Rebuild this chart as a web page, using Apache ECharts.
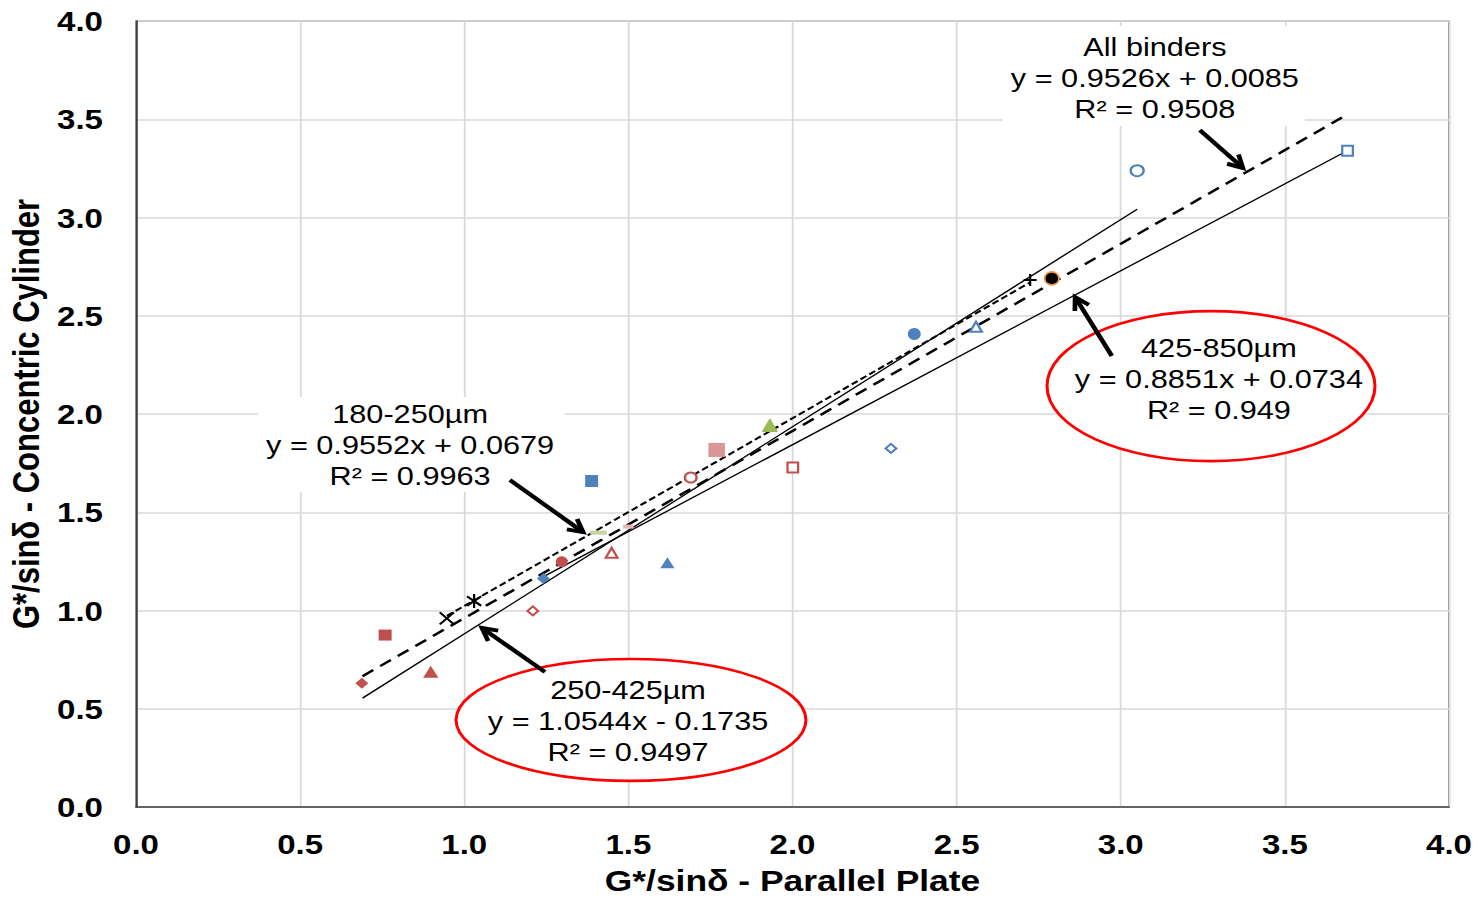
<!DOCTYPE html>
<html>
<head>
<meta charset="utf-8" />
<title></title>
<style>
html,body{margin:0;padding:0;background:#fff;overflow:hidden;}
#wrap{width:1478px;height:898px;overflow:hidden;}
#chart{width:1253px;height:898px;transform:scaleX(1.17957);transform-origin:0 0;}
</style>
</head>
<body>
<div id="wrap"><div id="chart"></div></div>
<script src="https://cdn.jsdelivr.net/npm/echarts@6/dist/echarts.min.js"></script>
<script>
// axis ticks
var xTicks = [0, 0.5, 1.0, 1.5, 2.0, 2.5, 3.0, 3.5, 4.0];
var yTicks = [0, 0.5, 1.0, 1.5, 2.0, 2.5, 3.0, 3.5, 4.0];

// measured points (parallel plate, concentric cylinder)
var ptX = [0.688, 0.759, 0.898, 0.947, 1.030, 1.209, 1.241, 1.297, 1.409, 1.388, 1.500, 1.449,
           1.619, 1.690, 1.769, 1.931, 2.001, 2.300, 2.371, 2.559, 2.724, 2.790, 3.050, 3.691];
var ptY = [0.630, 0.875, 0.688, 0.960, 1.048, 0.998, 1.163, 1.248, 1.396, 1.659, 1.427, 1.294,
           1.243, 1.677, 1.817, 1.944, 1.728, 1.825, 2.407, 2.444, 2.682, 2.690, 3.238, 3.340];

// trend lines
var fitNames = ['All binders', '180-250µm', '250-425µm', '425-850µm'];
var fitSlope = [0.9526, 0.9552, 1.0544, 0.8851];
var fitIntercept = [0.0085, 0.0679, -0.1735, 0.0734];
var fitR2 = ['0.9508', '0.9963', '0.9497', '0.949'];
var fitFrom = [0.69, 0.947, 0.69, 1.24];
var fitTo = [3.674, 2.724, 3.05, 3.69];

// marker look for each point (same order as ptX)
var blue = '#4f81bd', red = '#c0504d';
var ptStyle = [
  ['diamond', red, 0, [11, 11]], ['rect', red, 0, [11, 11]], ['triangle', red, 0, [13, 12]],
  ['x', '#000', 0, [12, 12]], ['star', '#000', 0, [12, 14]], ['diamond', red, 1, [9, 9]],
  ['diamond', blue, 0, [11, 11]], ['circle', red, 0, [10, 11]], ['rect', '#c3d69b', 0, [14, 4]],
  ['rect', blue, 0, [11, 12]], ['rect', '#e6b9b8', 0, [9, 4]], ['triangle', red, 1, [10, 10]],
  ['triangle', blue, 0, [12, 11]], ['circle', red, 1, [10, 10]], ['rect', '#d99694', 0, [14, 14]],
  ['triangle', '#9bbb59', 0, [14, 14]], ['rect', red, 1, [9, 10]], ['diamond', blue, 1, [9, 9]],
  ['circle', blue, 0, [11, 12]], ['triangle', blue, 1, [10, 10]], ['plus', '#000', 0, [11, 12]],
  ['circle', '#000', 0, [12, 13]], ['circle', blue, 1, [11, 11]], ['rect', blue, 1, [9, 10]]
];

var paths = {
  x: 'path://M0 0L10 10M10 0L0 10',
  star: 'path://M0 2L10 10M10 2L0 10M5 0L5 12',
  plus: 'path://M0 5L10 5M5 0L5 10'
};

var font = '"Liberation Sans", Arial, sans-serif';
var chart = echarts.init(document.getElementById('chart'), null, {renderer: 'svg'});

function eqText(i) {
  var b = fitIntercept[i];
  return 'y = ' + fitSlope[i] + 'x ' + (b < 0 ? '- ' : '+ ') + Math.abs(b);
}

var series = [];
var lineStyles = [
  {type: [11, 7], width: 2.4},
  {type: [6, 3], width: 2},
  {type: 'solid', width: 1.3},
  {type: 'solid', width: 1.3}
];
for (var i = 0; i < fitNames.length; i++) {
  var f = fitFrom[i], t = fitTo[i];
  series.push({
    name: fitNames[i],
    type: 'line',
    data: [[f, fitSlope[i] * f + fitIntercept[i]], [t, fitSlope[i] * t + fitIntercept[i]]],
    symbol: 'none',
    silent: true,
    z: 2,
    lineStyle: {color: '#000', width: lineStyles[i].width, type: lineStyles[i].type, opacity: 1}
  });
}
for (var k = 0; k < ptX.length; k++) {
  var st = ptStyle[k];
  var isPath = paths[st[0]];
  var item;
  if (isPath) {
    item = {color: '#000', borderColor: '#000', borderWidth: 2};
  } else if (st[2]) {
    item = {color: '#fff', borderColor: st[1], borderWidth: 2};
  } else {
    item = {color: st[1]};
  }
  if (k === 21) item = {color: '#000', borderColor: '#f79646', borderWidth: 1.5};
  item.opacity = 1;
  series.push({
    type: 'scatter',
    data: [[ptX[k], ptY[k]]],
    symbol: isPath || st[0],
    symbolSize: st[3],
    z: 4,
    silent: true,
    itemStyle: item
  });
}

var axisBase = {
  type: 'value',
  min: 0,
  max: 4,
  interval: 0.5,
  axisTick: {show: false},
  axisLine: {show: true, lineStyle: {color: '#404040', width: 1.6}},
  splitLine: {show: true, lineStyle: {color: '#d9d9d9', width: 1.5}},
  nameLocation: 'middle',
  nameTextStyle: {color: '#000', fontWeight: 'bold', fontFamily: font}
};

chart.setOption({
  animation: false,
  backgroundColor: '#fff',
  grid: {left: 115.3, right: 24.6, top: 21, bottom: 91, show: true, borderColor: '#8c8c8c', borderWidth: 1.5,
         containLabel: false, outerBoundsMode: 'none'},
  xAxis: echarts.util.merge({
    name: 'G*/sinδ - Parallel Plate',
    nameGap: 58,
    nameTextStyle: {fontSize: 30},
    axisLabel: {margin: 23, color: '#000', fontWeight: 'bold', fontSize: 28, fontFamily: font,
                formatter: function (v) { return v.toFixed(1); }}
  }, axisBase),
  yAxis: echarts.util.merge({
    name: 'G*/sinδ - Concentric Cylinder',
    nameGap: 78,
    nameTextStyle: {fontSize: 31},
    axisLabel: {margin: 28, color: '#000', fontWeight: 'bold', fontSize: 28, fontFamily: font,
                formatter: function (v) { return v.toFixed(1); }}
  }, axisBase),
  series: series
});

// annotation boxes, ellipses and arrows (data coordinates)
var notes = [
  {fit: 0, tx: 3.104, ty: 3.712, box: [2.641, 3.975, 3.561, 3.466], arrow: [3.241, 3.445, 3.372, 3.252]},
  {fit: 1, tx: 0.835, ty: 1.842, box: [0.372, 2.087, 1.307, 1.603], arrow: [1.139, 1.664, 1.362, 1.399]},
  {fit: 3, tx: 3.299, ty: 2.178, ell: [3.275, 2.142, 0.4996, 0.3817], arrow: [2.973, 2.295, 2.861, 2.595]},
  {fit: 2, tx: 1.499, ty: 0.438, ell: [1.508, 0.443, 0.533, 0.310], arrow: [1.246, 0.687, 1.054, 0.911]}
];

function px(x, y) { return chart.convertToPixel({gridIndex: 0}, [x, y]); }

var gfx = [];
notes.forEach(function (n) {
  if (n.box) {
    var a = px(n.box[0], n.box[1]), b = px(n.box[2], n.box[3]);
    gfx.push({type: 'rect', z: 50, silent: true,
      shape: {x: a[0], y: a[1], width: b[0] - a[0], height: b[1] - a[1]},
      style: {fill: '#fff'}});
  }
  if (n.ell) {
    var c = px(n.ell[0], n.ell[1]), e = px(n.ell[0] + n.ell[2], n.ell[1] + n.ell[3]);
    gfx.push({type: 'ellipse', z: 50, silent: true,
      shape: {cx: c[0], cy: c[1], rx: e[0] - c[0], ry: c[1] - e[1]},
      style: {fill: '#fff', stroke: '#ff0000', lineWidth: 2.6}});
  }
  var p = px(n.tx, n.ty);
  gfx.push({type: 'text', z: 51, silent: true, x: p[0], y: p[1],
    style: {text: fitNames[n.fit] + '\n' + eqText(n.fit) + '\nR² = ' + fitR2[n.fit],
      fill: '#000', fontSize: 26, fontFamily: font, lineHeight: 31,
      align: 'center', verticalAlign: 'middle', textAlign: 'center', textVerticalAlign: 'middle'}});

  var s = px(n.arrow[0], n.arrow[1]), tip = px(n.arrow[2], n.arrow[3]);
  var dx = s[0] - tip[0], dy = s[1] - tip[1], len = Math.sqrt(dx * dx + dy * dy);
  dx /= len; dy /= len;
  var L = 14, ang = 0.5;
  function rot(a) {
    return [tip[0] + L * (dx * Math.cos(a) - dy * Math.sin(a)), tip[1] + L * (dx * Math.sin(a) + dy * Math.cos(a))];
  }
  gfx.push({type: 'polyline', z: 60, silent: true, shape: {points: [s, tip]},
    style: {stroke: '#000', lineWidth: 4, fill: null}});
  gfx.push({type: 'polyline', z: 60, silent: true, shape: {points: [rot(ang), tip, rot(-ang)]},
    style: {stroke: '#000', lineWidth: 4, fill: null, lineJoin: 'miter'}});
});

chart.setOption({graphic: {elements: gfx}});
</script>
</body>
</html>
